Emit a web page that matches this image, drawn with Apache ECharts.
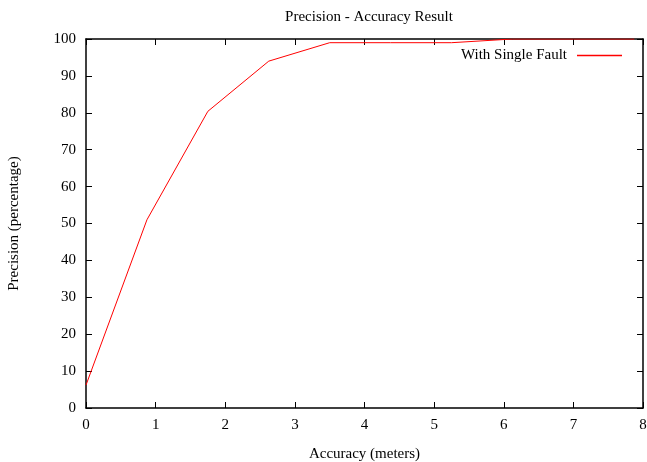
<!DOCTYPE html>
<html lang="en">
<head>
    <meta charset="UTF-8">
</head>
<style>
    html, body {
        margin: 0;
        width: 100%;
        height: 100%;
        background: #fff;
    }
</style>
<body>

<div id="main" style="width:647px;height:462px;"></div>

<script src="https://cdn.jsdelivr.net/npm/echarts@6/dist/echarts.min.js" type="text/javascript"></script>

<script type="text/javascript">

    // accuracy (meters) and precision (percentage)
    let accuracy = [0, 0.875, 1.75, 2.625, 3.5, 4.375, 5.25, 6.125, 7, 7.875];
    let precision = [6.2, 51, 80.4, 94, 99, 99, 99, 100, 100, 100];

    let serif = 'Liberation Serif';

    let myEcharts = echarts.init(document.getElementById('main'));

    let axisCommon = {
        type: 'value',
        axisLine: {show: true, onZero: false, lineStyle: {color: '#000', width: 1.5}},
        axisTick: {show: true, inside: true, length: 6, lineStyle: {color: '#000', width: 1}},
        splitLine: {show: false}
    };

    let option = {
        backgroundColor: '#fff',
        animation: false,
        title: {
            text: 'Precision - Accuracy Result',
            left: 364,
            textAlign: 'center',
            top: 5,
            textStyle: {fontFamily: serif, fontSize: 15, fontWeight: 'normal', color: '#000'}
        },
        legend: {
            right: 20,
            top: 43,
            align: 'right',
            itemWidth: 45,
            itemHeight: 1.5,
            textStyle: {fontFamily: serif, fontSize: 15, color: '#000', padding: [0, 5, 0, 0]},
            data: [{name: 'With Single Fault', icon: 'rect'}]
        },
        grid: {left: 86, right: 4, top: 39, bottom: 54, containLabel: false, outerBoundsMode: 'none'},
        xAxis: [
            Object.assign({}, axisCommon, {
                min: 0, max: 8, interval: 1,
                name: 'Accuracy (meters)',
                nameLocation: 'middle',
                nameGap: 39,
                nameTextStyle: {fontFamily: serif, fontSize: 15, color: '#000'},
                axisLabel: {fontFamily: serif, fontSize: 15, color: '#000', margin: 10}
            }),
            Object.assign({}, axisCommon, {
                position: 'top',
                min: 0, max: 8, interval: 1,
                axisLabel: {show: false}
            })
        ],
        yAxis: [
            Object.assign({}, axisCommon, {
                min: 0, max: 100, interval: 10,
                name: 'Precision (percentage)',
                nameLocation: 'middle',
                nameGap: 64,
                nameTextStyle: {fontFamily: serif, fontSize: 15, color: '#000'},
                axisLabel: {fontFamily: serif, fontSize: 15, color: '#000', margin: 10}
            }),
            Object.assign({}, axisCommon, {
                position: 'right',
                min: 0, max: 100, interval: 10,
                axisLabel: {show: false}
            })
        ],
        series: [
            {
                name: 'With Single Fault',
                type: 'line',
                symbol: 'none',
                lineStyle: {color: '#ff0000', width: 1},
                itemStyle: {color: '#ff0000'},
                z: 1,
                data: accuracy.map(function (a, i) {
                    return [a, precision[i]];
                })
            }
        ]
    };

    myEcharts.setOption(option);

</script>
</body>
</html>
